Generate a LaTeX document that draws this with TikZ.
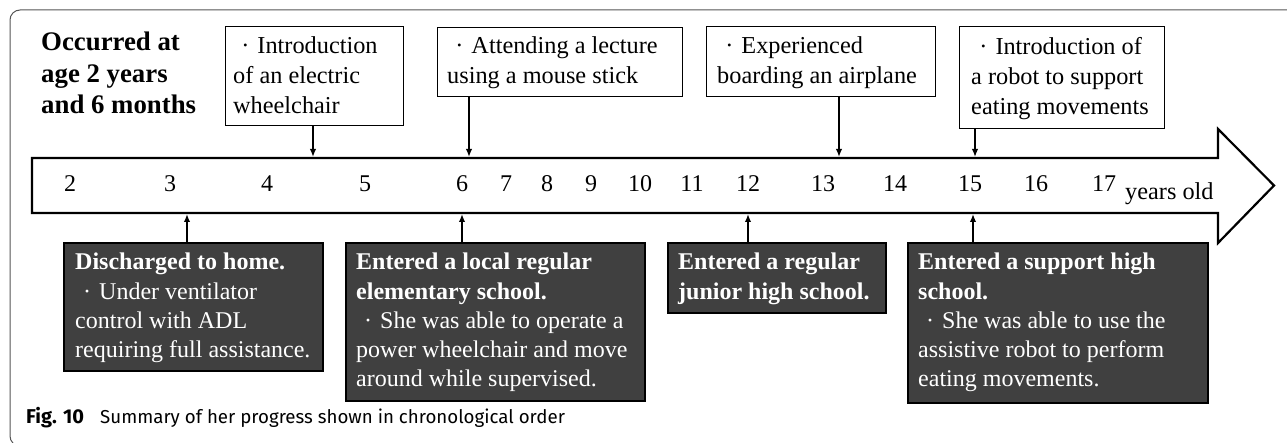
\documentclass[tikz,border=0pt]{standalone}
\usepackage{fontspec}
\setmainfont{Liberation Serif}
\newfontfamily\capfont{Fira Sans}
\usetikzlibrary{arrows.meta,calc}
\definecolor{boxgray}{HTML}{404040}
\definecolor{framec}{HTML}{555555}
\newcommand\jdot{\makebox[1em]{·}}
\begin{document}
\begin{tikzpicture}[x=1pt,y=1pt,
  topbox/.style={draw=black, line width=1.4pt, fill=white, inner sep=0pt, anchor=north west},
  darkbox/.style={draw=black, line width=2pt, fill=boxgray, inner sep=0pt, anchor=north west},
  toptext/.style={anchor=north west, inner sep=0pt, align=left, font=\fontsize{24.3}{30}\selectfont},
  bottext/.style={anchor=north west, inner sep=0pt, align=left, text=white, font=\fontsize{24}{29.3}\selectfont},
  num/.style={anchor=base, inner sep=0pt, font=\fontsize{24}{28}\selectfont},
  conn/.style={line width=1.6pt, -{Latex[length=8pt,width=6.5pt]}},
]
\useasboundingbox (0,0) rectangle (1287,442);
% frame
\draw[framec, line width=1pt, rounded corners=10pt] (1300,432) -- (10,432) -- (10,-4) -- (1300,-4);
% timeline arrow
\draw[line width=2.2pt, fill=white, line join=miter]
  (32,284) -- (1218,284) -- (1218,313) -- (1274,256.5) -- (1218,199) -- (1218,229) -- (32,229) -- cycle;
% numbers
\foreach \n/\x in {2/70,3/170,4/267,5/365,6/462,7/506,8/547,9/591,10/640,11/692,12/748,13/823,14/895,15/970,16/1036,17/1104}
  \node[num] (n\n) at (\x,250) {\n};
\node[anchor=base west, inner sep=0pt, font=\fontsize{24.3}{28}\selectfont] (yo) at (1125,242) {years old};
% heading
\node[anchor=north west, inner sep=0pt, align=left, font=\bfseries\fontsize{26.8}{31.7}\selectfont] (occ) at (41,410.3) {Occurred at\\age 2 years\\and 6 months};
% top boxes
\node[topbox, minimum width=178pt, minimum height=99pt] (T1) at (225,416) {};
\node[topbox, minimum width=245pt, minimum height=69pt] (T2) at (437,415) {};
\node[topbox, minimum width=229pt, minimum height=70pt] (T3) at (706,416) {};
\node[topbox, minimum width=205pt, minimum height=102pt] (T4) at (959,416) {};
\node[toptext] (T1t) at (233,405.1) {\jdot Introduction\\of an electric\\wheelchair};
\node[toptext] (T2t) at (447,405.1) {\jdot Attending a lecture\\using a mouse stick};
\node[toptext] (T3t) at (717,405.1) {\jdot Experienced\\boarding an airplane};
\node[toptext] (T4t) at (971,405.1) {\jdot Introduction of\\a robot to support\\eating movements};
% bottom boxes
\node[darkbox, minimum width=259pt, minimum height=128pt] (B1) at (63,200) {};
\node[darkbox, minimum width=299pt, minimum height=158pt] (B2) at (345,200) {};
\node[darkbox, minimum width=218pt, minimum height=70pt] (B3) at (667,200) {};
\node[darkbox, minimum width=300pt, minimum height=160pt] (B4) at (907,200) {};
\node[bottext] (B1t) at (75,189.1) {\textbf{Discharged to home.}\\\jdot Under ventilator\\control with ADL\\requiring full assistance.};
\node[bottext] (B2t) at (356,189.1) {\textbf{Entered a local regular}\\\textbf{elementary school.}\\\jdot She was able to operate a\\power wheelchair and move\\around while supervised.};
\node[bottext] (B3t) at (678,189.1) {\textbf{Entered a regular}\\\textbf{junior high school.}};
\node[bottext] (B4t) at (918,189.1) {\textbf{Entered a support high}\\\textbf{school.}\\\jdot She was able to use the\\assistive robot to perform\\eating movements.};
% connector ends
\coordinate (a1) at (313,285);
\coordinate (a2) at (469,285);
\coordinate (a3) at (839,285);
\coordinate (a4) at (975,285);
\coordinate (b1) at (187,228);
\coordinate (b2) at (462,228);
\coordinate (b3) at (748,228);
\coordinate (b4) at (973,228);
\draw[conn] (T1.south -| a1) -- (a1);
\draw[conn] (T2.south -| a2) -- (a2);
\draw[conn] (T3.south -| a3) -- (a3);
\draw[conn] (T4.south -| a4) -- (a4);
\draw[conn] (B1.north -| b1) -- (b1);
\draw[conn] (B2.north -| b2) -- (b2);
\draw[conn] (B3.north -| b3) -- (b3);
\draw[conn] (B4.north -| b4) -- (b4);
% caption
\node[anchor=base west, inner sep=0pt, font=\capfont\bfseries\fontsize{20}{22}\selectfont] (figlab) at (26,19) {Fig. 10};
\node[anchor=base west, inner sep=0pt, font=\capfont\fontsize{18.7}{21}\selectfont] (captxt) at (100,19) {Summary of her progress shown in chronological order};
\end{tikzpicture}
\end{document}
